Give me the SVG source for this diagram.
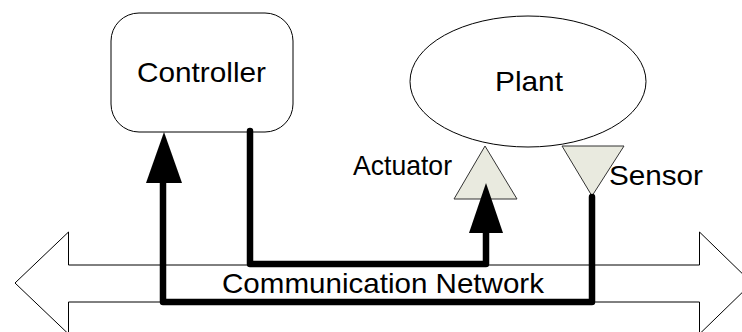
<svg xmlns="http://www.w3.org/2000/svg" width="742" height="332" viewBox="0 0 742 332">
<style>
.lbl{font-family:"Liberation Sans",Arial,sans-serif;font-size:28px;fill:#000}
.shape{fill:#fff;stroke:#000;stroke-width:1}
.tri{fill:#e9eadf;stroke:#333;stroke-width:1}
.wire{fill:none;stroke:#000;stroke-width:6.5;stroke-linejoin:round;stroke-linecap:round}
.head{fill:#000}
</style>
<rect width="742" height="332" fill="#fff"/>
<g id="network">
<polygon class="shape" points="15,283 68.5,232 68.5,265 699.5,265 699.5,232 752,283 699.5,334 699.5,302 68.5,302 68.5,334"/>
</g>
<g id="controller">
<rect class="shape" x="111" y="13" width="182" height="119" rx="28" ry="28"/>
<text class="lbl" x="137" y="82" textLength="129" lengthAdjust="spacingAndGlyphs">Controller</text>
</g>
<g id="plant">
<ellipse class="shape" cx="528" cy="81.5" rx="118" ry="65.5"/>
<text class="lbl" x="495" y="91" textLength="68" lengthAdjust="spacingAndGlyphs">Plant</text>
</g>
<g id="actuator">
<polygon class="tri" points="485,146 517,199 454,199"/>
<text class="lbl" x="353" y="175" textLength="99" lengthAdjust="spacingAndGlyphs">Actuator</text>
</g>
<g id="sensor">
<polygon class="tri" points="562,146 624,146 592,196"/>
<text class="lbl" x="609" y="185" textLength="94" lengthAdjust="spacingAndGlyphs">Sensor</text>
</g>
<g id="connectors">
<polyline class="wire" points="250,131 250,264 486,264 486,228"/>
<polygon class="head" points="486,183 503,233 469,233"/>
<polyline class="wire" points="592,197 592,302 163,302 163,178"/>
<polygon class="head" points="164,132 182,183 146,183"/>
</g>
<g id="netlabel">
<text class="lbl" x="222" y="293" textLength="322" lengthAdjust="spacingAndGlyphs">Communication Network</text>
</g>
</svg>
